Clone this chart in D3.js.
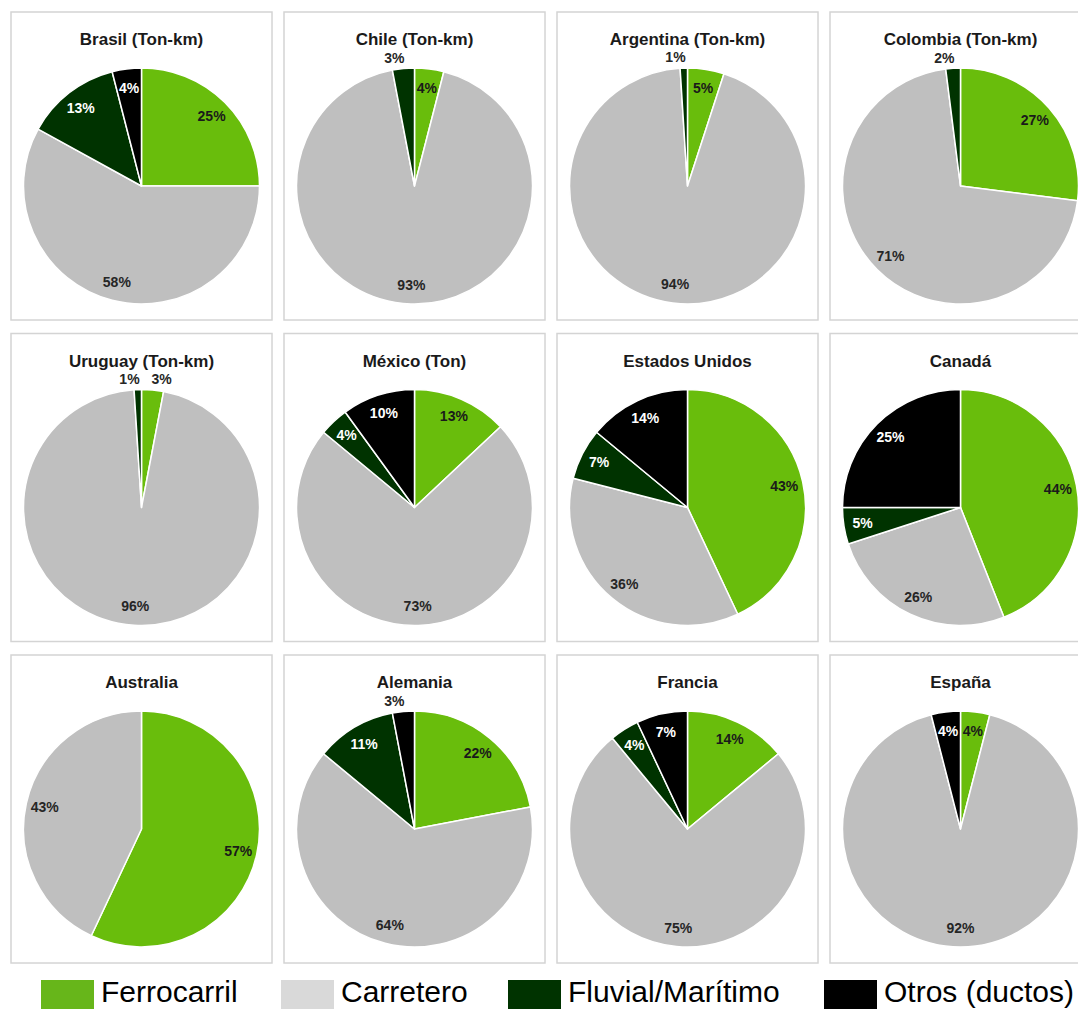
<!DOCTYPE html>
<html>
<head>
<meta charset="utf-8">
<script src="https://cdn.jsdelivr.net/npm/d3@7"></script>
<style>
  body { margin: 0; background: #fff; }
  svg { display: block; font-family: "Liberation Sans", Arial, sans-serif; }
</style>
</head>
<body>
<script>
// countries, in reading order (4 per row)
var countries = ["Brasil (Ton-km)", "Chile (Ton-km)", "Argentina (Ton-km)", "Colombia (Ton-km)",
                 "Uruguay (Ton-km)", "México (Ton)", "Estados Unidos", "Canadá",
                 "Australia", "Alemania", "Francia", "España"];

// share by mode (%), same order as countries
var ferrocarril = [25, 4, 5, 27, 3, 13, 43, 44, 57, 22, 14, 4];
var carretero   = [58, 93, 94, 71, 96, 73, 36, 26, 43, 64, 75, 92];
var fluvial     = [13, 3, 1, 2, 1, 4, 7, 5, 0, 11, 4, 0];
var otros       = [4, 0, 0, 0, 0, 10, 14, 25, 0, 3, 7, 4];

var modes = ["Ferrocarril", "Carretero", "Fluvial/Marítimo", "Otros (ductos)"];
var pieColors = ["#69bd0c", "#bfbfbf", "#003300", "#000000"];
var legendColors = ["#67b61a", "#d9d9d9", "#003300", "#000000"];
var labelColors = ["#1a1a1a", "#262626", "#ffffff", "#ffffff"];

var width = 1078, height = 1009;
var panelW = 261, panelH = 308,
    colStep = 273, rowStep = 321.5,
    left0 = 11, top0 = 12,
    radius = 118;

var svg = d3.select("body").append("svg")
    .attr("width", width)
    .attr("height", height);

var pie = d3.pie().sort(null).value(function(d) { return d.value; });
var arc = d3.arc().innerRadius(0).outerRadius(radius);

countries.forEach(function(name, i) {
  var col = i % 4, row = Math.floor(i / 4);
  var x0 = left0 + col * colStep, y0 = top0 + row * rowStep;
  var cx = x0 + panelW / 2, cy = y0 + 174;

  var g = svg.append("g");

  g.append("rect")
      .attr("x", x0).attr("y", y0)
      .attr("width", panelW).attr("height", panelH)
      .attr("fill", "#fff")
      .attr("stroke", "#d4d4d4")
      .attr("stroke-width", 1.5);

  g.append("text")
      .attr("x", cx).attr("y", y0 + 33)
      .attr("text-anchor", "middle")
      .attr("font-size", 17)
      .attr("font-weight", "bold")
      .attr("fill", "#1a1a1a")
      .text(name);

  var slices = [ferrocarril[i], carretero[i], fluvial[i], otros[i]].map(function(v, k) {
    return {value: v, k: k};
  });
  var arcs = pie(slices);

  var pg = g.append("g").attr("transform", "translate(" + cx + "," + cy + ")");

  pg.selectAll("path")
    .data(arcs.filter(function(d) { return d.data.value > 0; }))
    .enter().append("path")
      .attr("d", arc)
      .attr("fill", function(d) { return pieColors[d.data.k]; })
      .attr("stroke", "#fff")
      .attr("stroke-width", 1.5)
      .attr("stroke-linejoin", "round");

  // data labels: small slices go just outside the rim
  pg.selectAll("text")
    .data(arcs.filter(function(d) { return d.data.value > 0; }))
    .enter().append("text")
      .attr("transform", function(d) {
        var a = (d.startAngle + d.endAngle) / 2;
        var out = d.data.value <= 3;
        var rr = out ? radius * 1.09 : radius * 0.84;
        var x = rr * Math.sin(a), y = -rr * Math.cos(a);
        if (out) x += (Math.sin(a) < 0 ? -8 : 8);
        return "translate(" + x + "," + y + ")";
      })
      .attr("dy", "0.35em")
      .attr("text-anchor", "middle")
      .attr("font-size", 14)
      .attr("font-weight", "bold")
      .attr("fill", function(d) {
        return d.data.value <= 3 ? "#262626" : labelColors[d.data.k];
      })
      .text(function(d) { return d.data.value + "%"; });
});

// legend along the bottom
var legendX = [41, 281, 508, 824];
var legend = svg.append("g");
modes.forEach(function(m, k) {
  legend.append("rect")
      .attr("x", legendX[k]).attr("y", 980)
      .attr("width", 53).attr("height", 40)
      .attr("fill", legendColors[k]);
  legend.append("text")
      .attr("x", legendX[k] + 60).attr("y", 1002)
      .attr("font-size", 30)
      .attr("fill", "#000")
      .text(m);
});
</script>
</body>
</html>
